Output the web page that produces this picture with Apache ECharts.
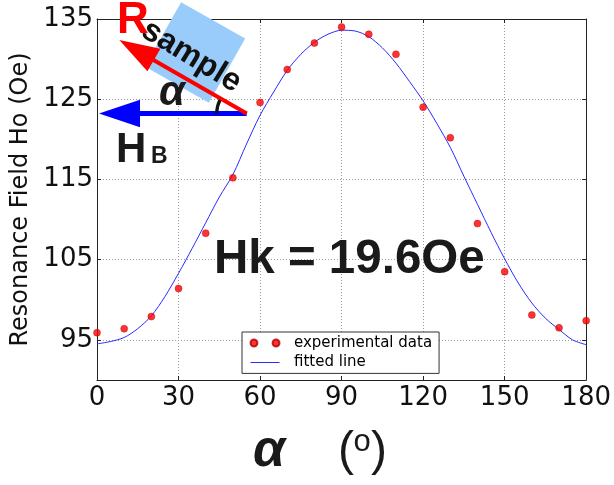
<!DOCTYPE html>
<html>
<head>
<meta charset="utf-8">
<script src="https://cdn.jsdelivr.net/npm/echarts@6/dist/echarts.min.js"></script>
<style>
  html, body { margin: 0; padding: 0; background: #ffffff; }
  #chart { width: 614px; height: 485px; }
</style>
</head>
<body>
<div id="chart"></div>
<script>
// Angle between applied field and sample edge (degrees)
const angleTicks = [0, 30, 60, 90, 120, 150, 180];
const fieldTicks = [95, 105, 115, 125, 135];

// Measured resonance field Ho (Oe) at each angle
const measuredAngles = [0, 10, 20, 30, 40, 50, 60, 70, 80, 90, 100, 110, 120, 130, 140, 150, 160, 170, 180];
const measuredField = [95.9, 96.4, 97.9, 101.4, 108.3, 115.2, 124.6, 128.7, 132.0, 134.0, 133.1, 130.6, 124.0, 120.2, 109.5, 103.5, 98.1, 96.5, 97.4];

// Fitted curve, sampled every 5 degrees
const fitAngles = [0, 5, 10, 15, 20, 25, 30, 35, 40, 45, 50, 55, 60, 65, 70, 75, 80, 85, 90,
                   95, 100, 105, 110, 115, 120, 125, 130, 135, 140, 145, 150, 155, 160, 165, 170, 175, 180];
const fitField = [94.5, 94.8, 95.3, 96.4, 98.0, 100.4, 103.3, 106.4, 109.6, 112.8, 115.6, 119.4, 123.0, 125.9, 128.6, 130.6, 132.1, 133.1, 133.6,
                  133.5, 132.8, 131.4, 129.5, 127.2, 124.8, 122.0, 119.0, 115.4, 111.9, 108.4, 105.1, 102.1, 99.6, 97.7, 96.3, 95.0, 94.4];

const seriesNames = ['experimental data', 'fitted line'];
const anisotropyLabel = 'Hk = 19.6Oe';

const chart = echarts.init(document.getElementById('chart'), null, { renderer: 'canvas' });

const frameColor = '#222222';
const gridLine = { show: true, lineStyle: { color: '#9a9a9a', width: 1, type: [1, 2] } };
const tickFont = { fontFamily: 'DejaVu Sans', fontSize: 26, color: '#111111' };

function xAxisDef(pos, withLabels) {
  return {
    type: 'value', position: pos, min: angleTicks[0], max: angleTicks[angleTicks.length - 1], interval: 30,
    axisLine: { show: true, onZero: false, lineStyle: { color: frameColor, width: 1 } },
    axisTick: { show: true, inside: true, length: 4, lineStyle: { color: frameColor } },
    axisLabel: Object.assign({ show: withLabels, margin: 5 }, tickFont),
    splitLine: withLabels ? gridLine : { show: false }
  };
}
function yAxisDef(pos, withLabels) {
  const ax = {
    type: 'value', position: pos, min: 90, max: 135,
    axisLine: { show: true, onZero: false, lineStyle: { color: frameColor, width: 1 } },
    axisTick: { show: true, inside: true, length: 4, customValues: fieldTicks, lineStyle: { color: frameColor } },
    axisLabel: Object.assign({ show: withLabels, margin: 4, customValues: fieldTicks }, tickFont),
    splitLine: withLabels ? gridLine : { show: false }
  };
  if (withLabels) {
    ax.name = 'Resonance Field Ho (Oe)';
    ax.nameLocation = 'middle';
    ax.nameRotate = 90;
    ax.nameGap = 61;
    ax.nameTextStyle = { fontFamily: 'DejaVu Sans', fontSize: 24, color: '#111111' };
  }
  return ax;
}

// Legend icons: a pair of markers, and a thin line segment
const twoDots = 'path://M0,3.5a3.5,3.5 0 1,0 7,0a3.5,3.5 0 1,0 -7,0ZM22.4,3.5a3.5,3.5 0 1,0 7,0a3.5,3.5 0 1,0 -7,0Z';
const thinLine = 'path://M0,0h0.01v0.01h-0.01Z M0,3h29v1h-29Z M0,6.99h0.01v0.01h-0.01Z';

// Sample sketch: rotated sample, its edge direction R and the bias field HB
const tail = [246.7, 113.5];
const sketch = [
  { type: 'rect', x: 195, y: 52.5, rotation: -29.5 * Math.PI / 180, z: 100,
    shape: { x: -36.8, y: -36.8, width: 73.6, height: 73.6 }, style: { fill: '#99ccfa' } },
  { type: 'line', z: 101, shape: { x1: tail[0], y1: tail[1], x2: 136, y2: tail[1] },
    style: { stroke: '#0000ff', lineWidth: 5 } },
  { type: 'polygon', z: 101, shape: { points: [[99, 113.5], [140, 99.8], [140, 127.2]] },
    style: { fill: '#0000ff' } },
  { type: 'line', z: 102, shape: { x1: tail[0], y1: tail[1], x2: 150, y2: 58 },
    style: { stroke: '#ff0000', lineWidth: 4 } },
  { type: 'polygon', z: 102, shape: { points: [[119.3, 40], [160.4, 48.8], [147.4, 71.3]] },
    style: { fill: '#ff0000' } },
  { type: 'arc', z: 102, shape: { cx: tail[0], cy: tail[1], r: 30, startAngle: Math.PI, endAngle: Math.PI + 0.47, clockwise: true },
    style: { stroke: '#111111', lineWidth: 3.2, fill: null } },
  { type: 'text', x: 191.5, y: 56.5, rotation: -31.4 * Math.PI / 180, z: 103,
    style: { text: 'sample', x: 0, y: 0, align: 'center', verticalAlign: 'middle',
             font: 'bold 32px "Liberation Sans"', fill: '#111111' } },
  { type: 'text', x: 117, y: 21, z: 103,
    style: { text: 'R', align: 'left', verticalAlign: 'middle', font: 'bold 44px "Liberation Sans"', fill: '#ff0000' } },
  { type: 'text', x: 159, y: 93.7, z: 103,
    style: { text: 'α', align: 'left', verticalAlign: 'middle', font: 'italic bold 42px "Liberation Sans"', fill: '#1a1a1a' } },
  { type: 'text', x: 116, y: 150, z: 103,
    style: { text: 'H', align: 'left', verticalAlign: 'middle', font: 'bold 42px "Liberation Sans"', fill: '#1a1a1a' } },
  { type: 'text', x: 151, y: 156.6, z: 103,
    style: { text: 'B', align: 'left', verticalAlign: 'middle', font: 'bold 23px "Liberation Sans"', fill: '#1a1a1a' } },
  // Fitted anisotropy field
  { type: 'text', x: 214, y: 260, z: 103,
    style: { text: anisotropyLabel, align: 'left', verticalAlign: 'middle', font: 'bold 47.5px "Liberation Sans"', fill: '#1a1a1a' } },
  // x-axis title: α (°)
  { type: 'text', x: 253, y: 452, z: 103,
    style: { text: 'α', align: 'left', verticalAlign: 'middle', font: 'italic bold 52px "Liberation Sans"', fill: '#1a1a1a' } },
  { type: 'text', x: 338, y: 451.3, z: 103,
    style: { text: '(', align: 'left', verticalAlign: 'middle', font: '48px "Liberation Sans"', fill: '#1a1a1a' } },
  { type: 'text', x: 362, y: 442.3, z: 103,
    style: { text: 'o', align: 'center', verticalAlign: 'middle', font: '31px "Liberation Sans"', fill: '#1a1a1a' } },
  { type: 'text', x: 371, y: 451.3, z: 103,
    style: { text: ')', align: 'left', verticalAlign: 'middle', font: '48px "Liberation Sans"', fill: '#1a1a1a' } }
];

chart.setOption({
  animation: false,
  backgroundColor: '#ffffff',
  grid: { left: 97, right: 27, top: 19, bottom: 105, containLabel: false },
  xAxis: [xAxisDef('bottom', true), xAxisDef('top', false)],
  yAxis: [yAxisDef('left', true), yAxisDef('right', false)],
  legend: {
    show: true, orient: 'vertical', left: 242, top: 332,
    backgroundColor: '#ffffff', borderColor: '#333333', borderWidth: 1, borderRadius: 0,
    padding: [3, 7, 3, 7.5], itemGap: 3.4, itemWidth: 29, itemHeight: 7,
    textStyle: { fontFamily: 'DejaVu Sans', fontSize: 15, lineHeight: 16, color: '#000000', padding: [0, 0, 0, 9.5] },
    data: [{ name: seriesNames[0], icon: twoDots }, { name: seriesNames[1], icon: thinLine }]
  },
  series: [
    {
      name: seriesNames[1], type: 'line', xAxisIndex: 0, yAxisIndex: 0,
      data: fitAngles.map((a, i) => [a, fitField[i]]),
      smooth: 0.3, symbol: 'none', showSymbol: false,
      lineStyle: { color: '#2a2aff', width: 1 }, itemStyle: { color: '#2a2aff' }, z: 3
    },
    {
      name: seriesNames[0], type: 'scatter', xAxisIndex: 0, yAxisIndex: 0,
      data: measuredAngles.map((a, i) => [a, measuredField[i]]),
      symbol: 'circle', symbolSize: 7,
      itemStyle: { color: '#ff0000', borderColor: '#b00000', borderWidth: 0.5 }, z: 4
    }
  ],
  graphic: sketch
});
</script>
</body>
</html>
